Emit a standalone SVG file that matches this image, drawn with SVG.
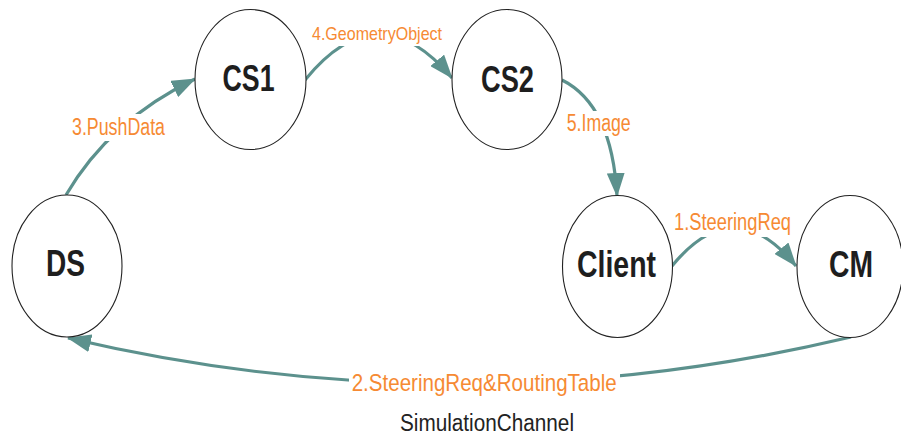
<svg xmlns="http://www.w3.org/2000/svg" width="901" height="442" viewBox="0 0 901 442">
  <style>
    .node ellipse { fill: #ffffff; stroke: #222222; stroke-width: 1.1; }
    .node text { font-family: "Liberation Sans", Arial, sans-serif; font-weight: bold; font-size: 37px; fill: #1e1e1e; text-anchor: middle; }
    .edge { fill: none; stroke: #5c918d; stroke-width: 3.2; marker-end: url(#arrow); }
    .lbl-bg { fill: #ffffff; }
    .lbl { font-family: "Liberation Sans", Arial, sans-serif; font-size: 23px; fill: #f68a33; }
    .caption { font-family: "Liberation Sans", Arial, sans-serif; font-size: 23.5px; fill: #222222; }
  </style>
  <defs>
    <marker id="arrow" markerUnits="userSpaceOnUse" viewBox="0 0 24 18" markerWidth="24" markerHeight="18" refX="23" refY="9" orient="auto">
      <path d="M0,0 L24,9 L0,18 z" fill="#5c918d"/>
    </marker>
  </defs>

  <rect width="901" height="442" fill="#ffffff"/>

  <!-- message flows between services -->
  <g id="connectors">
    <path class="edge" d="M 66,195 Q 110,120 195,79"/>
    <path class="edge" d="M 305,80 Q 378,-10 452,78"/>
    <path class="edge" d="M 562,80 Q 612,105 617,196"/>
    <path class="edge" d="M 672,266 Q 734,190 796,266"/>
    <path class="edge" d="M 851,337 Q 460,430 68,338"/>

    <rect class="lbl-bg" x="69" y="114" width="100" height="27"/>
    <text class="lbl" x="72" y="135" textLength="93" lengthAdjust="spacingAndGlyphs">3.PushData</text>

    <rect class="lbl-bg" x="309" y="22" width="137" height="24"/>
    <text class="lbl" x="312" y="39.7" style="font-size:19px" textLength="130" lengthAdjust="spacingAndGlyphs">4.GeometryObject</text>

    <rect class="lbl-bg" x="564" y="111" width="70" height="25"/>
    <text class="lbl" x="566.7" y="131" textLength="64" lengthAdjust="spacingAndGlyphs">5.Image</text>

    <rect class="lbl-bg" x="671" y="209" width="124" height="28"/>
    <text class="lbl" x="674" y="230" textLength="117" lengthAdjust="spacingAndGlyphs">1.SteeringReq</text>

    <rect class="lbl-bg" x="349" y="369" width="271" height="29"/>
    <text class="lbl" x="351.7" y="390.7" style="font-size:24.5px" textLength="265" lengthAdjust="spacingAndGlyphs">2.SteeringReq&amp;RoutingTable</text>
  </g>

  <g id="DS" class="node">
    <ellipse cx="67" cy="266" rx="55" ry="71"/>
    <text x="65.5" y="276" textLength="39" lengthAdjust="spacingAndGlyphs">DS</text>
  </g>

  <g id="CS1" class="node">
    <ellipse cx="250.5" cy="79.5" rx="55.5" ry="70"/>
    <text x="248.5" y="91" textLength="52" lengthAdjust="spacingAndGlyphs">CS1</text>
  </g>

  <g id="CS2" class="node">
    <ellipse cx="507" cy="79.5" rx="55" ry="70"/>
    <text x="507.5" y="92" textLength="53" lengthAdjust="spacingAndGlyphs">CS2</text>
  </g>

  <g id="Client" class="node">
    <ellipse cx="617.5" cy="266.5" rx="55" ry="71"/>
    <text x="616.5" y="277" textLength="79" lengthAdjust="spacingAndGlyphs">Client</text>
  </g>

  <g id="CM" class="node">
    <ellipse cx="850" cy="266.5" rx="53" ry="71"/>
    <text x="851" y="277" textLength="44" lengthAdjust="spacingAndGlyphs">CM</text>
  </g>

  <text class="caption" x="400" y="430.7" textLength="174" lengthAdjust="spacingAndGlyphs">SimulationChannel</text>
</svg>
